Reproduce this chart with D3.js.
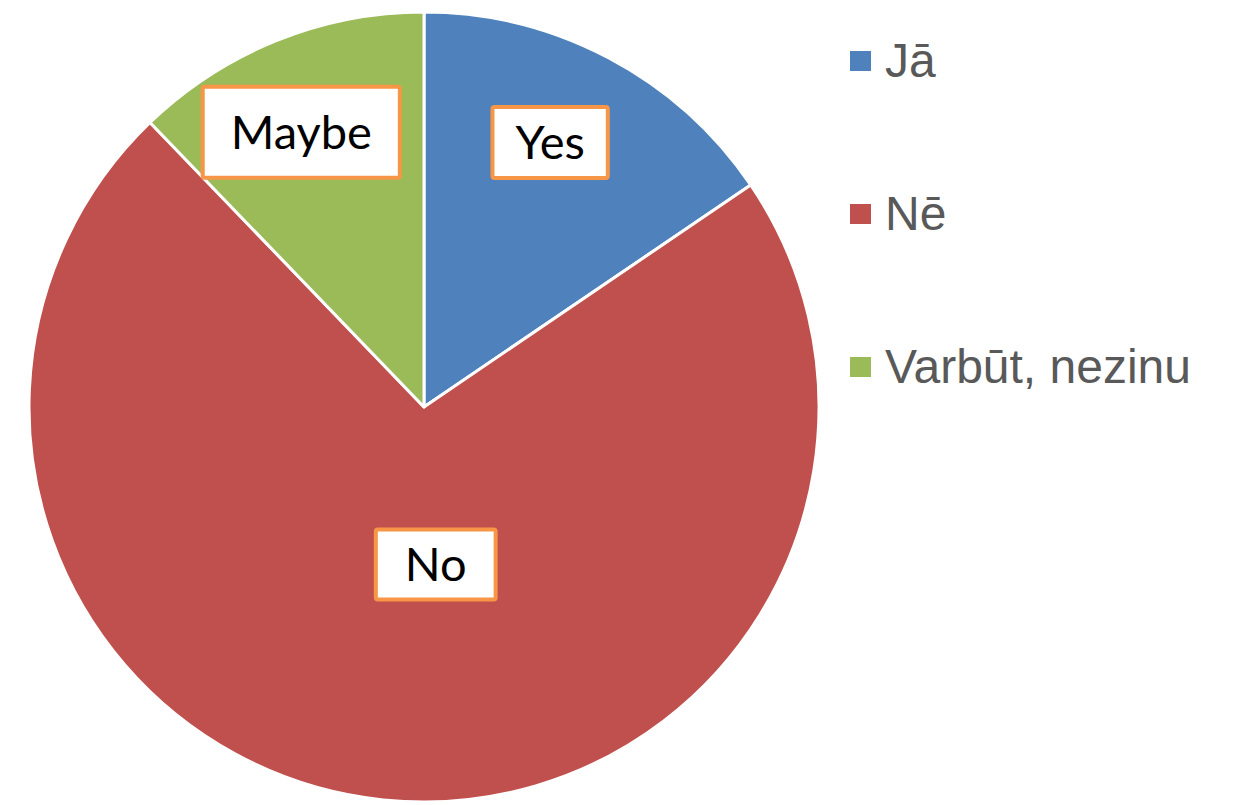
<!DOCTYPE html>
<html>
<head>
<meta charset="utf-8">
<script src="https://cdn.jsdelivr.net/npm/d3@7/dist/d3.min.js"></script>
<style>
  html, body { margin: 0; padding: 0; background: #fff; }
  svg { display: block; }
</style>
</head>
<body>
<svg id="chart" width="1242" height="805"></svg>
<script>
// Survey answers (share of respondents, %)
const categories = ["Jā", "Nē", "Varbūt, nezinu"];
const values = [15.5, 72.3, 12.2];
const sliceLabels = ["Yes", "No", "Maybe"];
const colors = ["#4F81BD", "#C0504D", "#9BBB59"];

// Layout
const W = 1242, H = 805;
const cx = 424, cy = 407, R = 395;
// label placement: distance from centre and angular nudge (deg), box padding
const labelLayout = [
  { r: 293, nudge: -2.4, padX: 23, h: 71 },
  { r: 158, nudge: -10.2, padX: 29, h: 70 },
  { r: 301, nudge: -2.1, padX: 28, h: 91 }
];

const svg = d3.select("#chart");

const pie = d3.pie().sort(null).value(d => d)
  .startAngle(0).endAngle(2 * Math.PI);
const arcs = pie(values);
const arc = d3.arc().innerRadius(0).outerRadius(R);

const g = svg.append("g").attr("transform", `translate(${cx},${cy})`);

g.selectAll("path.slice")
  .data(arcs)
  .join("path")
  .attr("class", "slice")
  .attr("d", arc)
  .attr("fill", (d, i) => colors[i])
  .attr("stroke", "#fff")
  .attr("stroke-width", 3)
  .attr("stroke-linejoin", "round");

// data labels in white boxes with orange border
const labels = g.selectAll("g.lab")
  .data(arcs)
  .join("g")
  .attr("class", "lab")
  .attr("transform", (d, i) => {
    const L = labelLayout[i];
    const a = (d.startAngle + d.endAngle) / 2 + L.nudge * Math.PI / 180;
    return `translate(${L.r * Math.sin(a)},${-L.r * Math.cos(a)})`;
  });

labels.each(function (d, i) {
  const sel = d3.select(this);
  const L = labelLayout[i];
  const rect = sel.append("rect");
  const t = sel.append("text")
    .attr("text-anchor", "middle")
    .attr("dy", "0.36em")
    .attr("font-family", "Lato, 'Open Sans', sans-serif")
    .attr("font-size", 47)
    .attr("fill", "#000")
    .text(sliceLabels[i]);
  const w = t.node().getComputedTextLength() + 2 * L.padX;
  rect.attr("x", -w / 2).attr("y", -L.h / 2)
    .attr("width", w).attr("height", L.h)
    .attr("fill", "#fff")
    .attr("stroke", "#F79646")
    .attr("stroke-width", 4)
    .attr("rx", 2);
});

// legend
const legendY = d3.scalePoint().domain(categories).range([61, 367]);
const legend = svg.append("g").attr("transform", "translate(850,0)");
const items = legend.selectAll("g.item")
  .data(categories)
  .join("g")
  .attr("class", "item")
  .attr("transform", d => `translate(0,${legendY(d)})`);
items.append("rect")
  .attr("x", 0).attr("y", -10)
  .attr("width", 21).attr("height", 20)
  .attr("fill", (d, i) => colors[i]);
items.append("text")
  .attr("x", 35)
  .attr("y", 16)
  .attr("font-family", "'Liberation Sans', Arial, sans-serif")
  .attr("font-size", 48)
  .attr("fill", "#595959")
  .text(d => d);
</script>
</body>
</html>
